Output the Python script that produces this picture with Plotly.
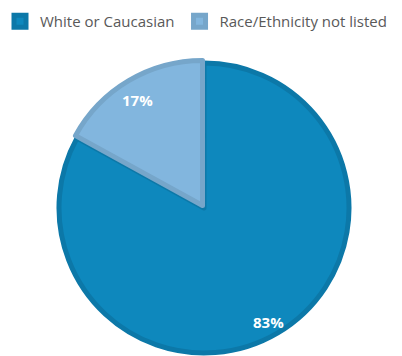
import math
import plotly.graph_objects as go

labels = ["White or Caucasian", "Race/Ethnicity not listed"]
values = [83, 17]
fill_colors = ["#0E88BD", "#82B6DE"]
line_colors = ["#0C78A8", "#76A6CA"]
pulls = [0, 0.02]

W, H = 402, 356
ML, MT = 10, 35
PW, PH = W - ML, H - MT
dom_x = [0.1176, 0.8722]
dom_y = [0.0003, 0.9218]

fig = go.Figure(go.Pie(
    labels=labels,
    values=values,
    sort=False,
    direction="clockwise",
    rotation=0,
    pull=pulls,
    marker=dict(colors=fill_colors, line=dict(color=line_colors, width=5)),
    textinfo="none",
    domain=dict(x=dom_x, y=dom_y),
    hoverinfo="skip",
))

# percentage labels placed along each slice's bisector, near the rim (like Excel)
cx = (dom_x[0] + dom_x[1]) / 2
cy = (dom_y[0] + dom_y[1]) / 2
r_px = min((dom_x[1] - dom_x[0]) * PW, (dom_y[1] - dom_y[0]) * PH) / 2 / (1 + max(pulls))
total = sum(values)
cum = 0
for v, p in zip(values, pulls):
    mid = (cum + v / 2) / total * 2 * math.pi
    cum += v
    rr = r_px * (0.88 + p)
    fig.add_annotation(
        x=cx + rr * math.sin(mid) / PW,
        y=cy + rr * math.cos(mid) / PH,
        xref="paper", yref="paper",
        xanchor="center", yanchor="middle",
        text=f"{round(v / total * 100)}%",
        showarrow=False,
        yshift=-4,
        font=dict(family="Open Sans", size=15, color="white", weight="bold"),
    )

fig.update_layout(
    width=W, height=H,
    margin=dict(l=ML, r=0, t=MT, b=0),
    paper_bgcolor="white",
    plot_bgcolor="white",
    showlegend=True,
    legend=dict(
        orientation="h",
        x=-ML / PW, y=1 + (MT - 5) / PH, xanchor="left", yanchor="top",
        font=dict(family="Open Sans", size=15, color="#595959"),
        traceorder="normal",
    ),
)

fig.write_html("out.html")
